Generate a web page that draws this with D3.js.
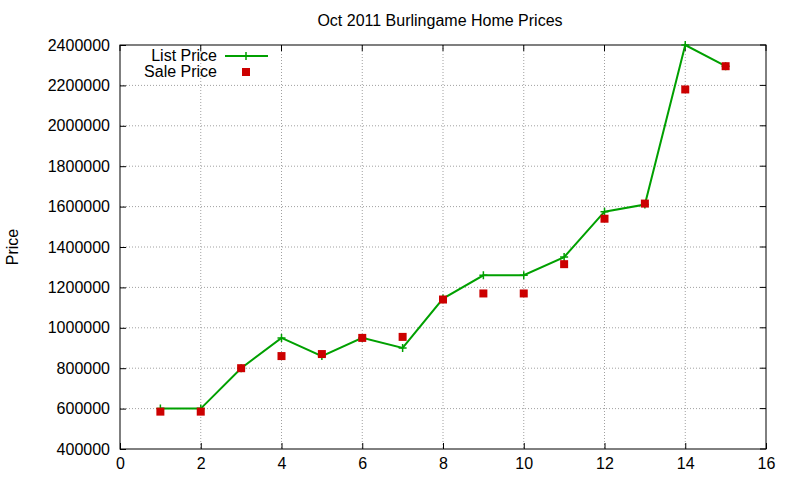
<!DOCTYPE html><html><head><script src="https://cdn.jsdelivr.net/npm/d3@7"></script>
<style>body{margin:0;background:#fff}text{font-family:"Liberation Sans",Arial,sans-serif;font-size:16px}</style></head><body>
<svg id="c" width="800" height="480"></svg>
<script>
const xs=[1,2,3,4,5,6,7,8,9,10,11,12,13,14,15];
const listPrice=[600000,600000,800000,950000,860000,950000,900000,1145000,1260000,1260000,1350000,1575000,1610000,2400000,2295000];
const salePrice=[585000,585000,800000,860000,870000,950000,955000,1140000,1170000,1170000,1315000,1540000,1615000,2180000,2295000];
const xTicks=[0,2,4,6,8,10,12,14,16];
const yTicks=[400000,600000,800000,1000000,1200000,1400000,1600000,1800000,2000000,2200000,2400000];
const svg=d3.select("#c");
const L=120,R=766,T=45,B=449;
const x=d3.scaleLinear().domain([0,16]).range([L,R]);
const y=d3.scaleLinear().domain([400000,2400000]).range([B,T]);
const g=svg.append("g");
xTicks.forEach(t=>{if(t>0&&t<16)g.append("line").attr("x1",x(t)).attr("x2",x(t)).attr("y1",T).attr("y2",B).attr("stroke","#a0a0a0").attr("stroke-dasharray","1,2");});
yTicks.forEach(t=>{if(t>400000&&t<2400000)g.append("line").attr("x1",L).attr("x2",R).attr("y1",y(t)).attr("y2",y(t)).attr("stroke","#a0a0a0").attr("stroke-dasharray","1,2");});
svg.append("g").attr("transform",`translate(0,${B})`).call(d3.axisBottom(x).tickValues(xTicks).tickSize(-6).tickPadding(9)).call(a=>{a.select(".domain").remove();a.selectAll("text").attr("font-size",16).attr("fill","#000");});
svg.append("g").attr("transform",`translate(${L},0)`).call(d3.axisLeft(y).tickValues(yTicks).tickFormat(d3.format("d")).tickSize(-6).tickPadding(10)).call(a=>{a.select(".domain").remove();a.selectAll("text").attr("font-size",16).attr("fill","#000");});
xTicks.forEach(t=>svg.append("line").attr("x1",x(t)).attr("x2",x(t)).attr("y1",T).attr("y2",T+6).attr("stroke","#000"));
yTicks.forEach(t=>svg.append("line").attr("x1",R).attr("x2",R-6).attr("y1",y(t)).attr("y2",y(t)).attr("stroke","#000"));
svg.append("rect").attr("x",L).attr("y",T).attr("width",R-L).attr("height",B-T).attr("fill","none").attr("stroke","#000");
const line=d3.line().x((d,i)=>x(xs[i])).y(d=>y(d));
svg.append("path").datum(listPrice).attr("d",line).attr("fill","none").attr("stroke","#00a000").attr("stroke-width",2);
listPrice.forEach((v,i)=>{const cx=x(xs[i]),cy=y(v);svg.append("path").attr("d",`M${cx-4},${cy}H${cx+4}M${cx},${cy-4}V${cy+4}`).attr("stroke","#00a000").attr("stroke-width",1.5);});
svg.selectAll(".s").data(salePrice).enter().append("rect").attr("x",(d,i)=>x(xs[i])-4).attr("y",d=>y(d)-4).attr("width",8).attr("height",8).attr("fill","#cc0000");
svg.append("text").attr("x",440).attr("y",26).attr("text-anchor","middle").text("Oct 2011 Burlingame Home Prices");
svg.append("text").attr("transform","translate(18,247) rotate(-90)").attr("text-anchor","middle").text("Price");
svg.append("text").attr("x",217).attr("y",61).attr("text-anchor","end").text("List Price");
svg.append("line").attr("x1",225).attr("x2",268).attr("y1",56).attr("y2",56).attr("stroke","#00a000").attr("stroke-width",2);
svg.append("path").attr("d","M242,56H250M246,52V60").attr("stroke","#00a000").attr("stroke-width",1.5);
svg.append("text").attr("x",217).attr("y",77).attr("text-anchor","end").text("Sale Price");
svg.append("rect").attr("x",242).attr("y",68).attr("width",8).attr("height",8).attr("fill","#cc0000");
</script></body></html>
